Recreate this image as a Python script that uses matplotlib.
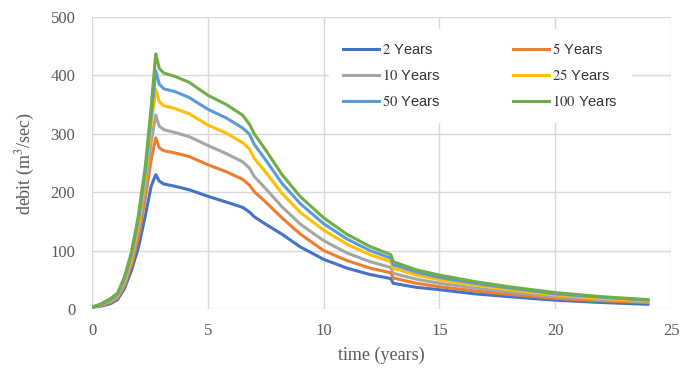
import matplotlib.pyplot as plt

plt.rcParams['mathtext.fontset'] = 'stix'

# time axis (years)
time = [0, 0.4, 0.8, 1.1, 1.4, 1.7, 2.0, 2.3, 2.55, 2.75, 2.9, 3.1, 3.6, 4.2,
        5.0, 5.8, 6.5, 6.8, 7.0, 7.5, 8.2, 9, 10, 11, 12, 12.9, 13.0, 14,
        15, 16.5, 18, 20, 22, 24]

# discharge per return period (m3/sec)
q2 = [3, 5, 9, 16, 35, 66, 105, 160, 210, 230, 219, 214, 210, 204,
      193, 183, 174, 166, 158, 145, 128, 106, 85, 70, 59, 52, 44, 37,
      33, 26, 21, 15, 11, 8]
q5 = [3, 6, 11, 19, 40, 75, 122, 190, 255, 293, 276, 271, 267, 261,
      247, 235, 222, 212, 201, 183, 156, 128, 100, 83, 70, 62, 53, 44,
      38, 31, 25, 18, 14, 11]
q10 = [3, 7, 13, 21, 44, 82, 135, 208, 285, 332, 313, 307, 302, 295,
       280, 266, 252, 241, 227, 206, 175, 145, 117, 96, 81, 71, 61, 51,
       44, 36, 29, 21, 16, 12]
q25 = [3, 8, 15, 24, 49, 88, 145, 225, 315, 376, 355, 348, 343, 334,
       315, 301, 285, 274, 258, 234, 198, 165, 135, 111, 93, 81, 70, 58,
       50, 41, 33, 24, 18, 14]
q50 = [3, 8, 16, 25, 52, 93, 153, 235, 330, 408, 385, 377, 372, 362,
       342, 327, 310, 299, 282, 255, 215, 180, 146, 120, 100, 87, 76, 63,
       54, 44, 36, 26, 20, 15]
q100 = [3, 9, 18, 27, 55, 97, 160, 245, 345, 437, 412, 404, 398, 388,
        366, 350, 332, 316, 300, 272, 230, 192, 156, 128, 107, 93, 81, 67,
        58, 47, 38, 28, 21, 16]

periods = ['2', '5', '10', '25', '50', '100']
series = [q2, q5, q10, q25, q50, q100]
colors = ['#4472C4', '#ED7D31', '#A5A5A5', '#FFC000', '#5B9BD5', '#70AD47']

fig = plt.figure(figsize=(6.82, 3.70), dpi=100)
ax = fig.add_axes([0.135, 0.165, 0.849, 0.789])

lines = []
for p, q, c in zip(periods, series, colors):
    ln, = ax.plot(time, q, color=c, lw=2.2, solid_joinstyle='round',
                  label=r'$\mathrm{%s}$ Years' % p)
    lines.append(ln)

ax.set_xlim(0, 25)
ax.set_ylim(0, 500)
ax.set_xticks(range(0, 26, 5))
ax.set_yticks(range(0, 501, 100))
ax.grid(True, color='#d9d9d9', lw=1.0)
ax.set_axisbelow(True)
for s in ax.spines.values():
    s.set_visible(False)
ax.tick_params(axis='y', length=0, labelsize=12, labelcolor='#595959', pad=12)
ax.tick_params(axis='x', length=0, labelsize=12, labelcolor='#595959', pad=10)
for lbl in ax.get_xticklabels() + ax.get_yticklabels():
    lbl.set_family('Liberation Serif')

ax.set_xlabel('time (years)', family='Liberation Serif', fontsize=13,
              color='#595959', labelpad=6)
ax.set_ylabel('debit (m$^3$/sec)', family='Liberation Serif', fontsize=13,
              color='#595959', labelpad=10)

# legend filled row by row: 2|5, 10|25, 50|100
order = [0, 2, 4, 1, 3, 5]
leg = ax.legend([lines[i] for i in order],
                [lines[i].get_label() for i in order],
                loc='upper left', bbox_to_anchor=(0.41, 0.958), borderaxespad=0,
                ncol=2, frameon=True, fancybox=False, edgecolor='white',
                framealpha=1, handlelength=2.5, handletextpad=0.2,
                columnspacing=4.95, labelspacing=0.75, borderpad=0.9,
                prop={'family': 'Liberation Sans', 'size': 10.5})
for t in leg.get_texts():
    t.set_color('#333333')

fig.savefig('out.png', dpi=100)
